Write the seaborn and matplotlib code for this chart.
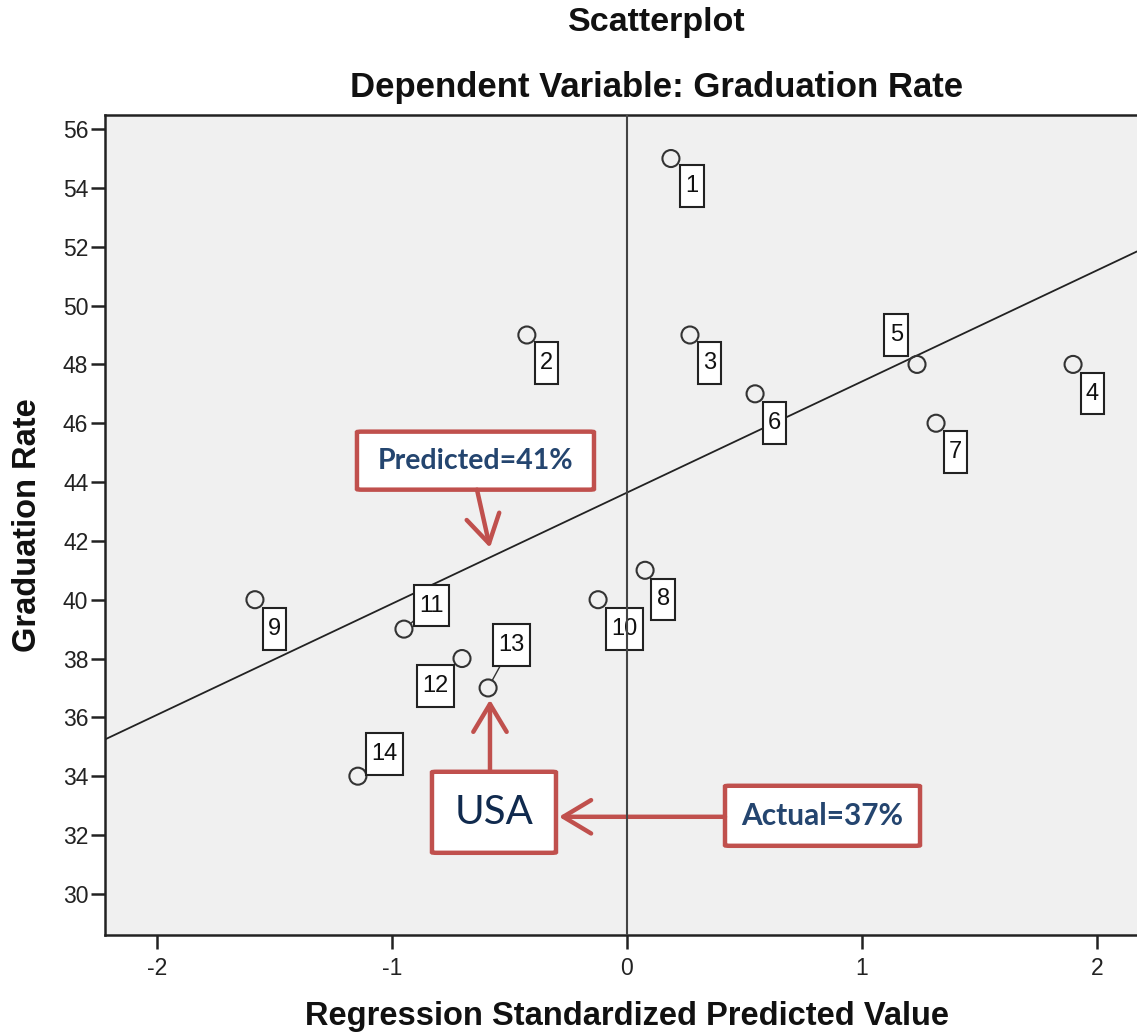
import matplotlib
matplotlib.use("Agg")
import matplotlib.pyplot as plt
from matplotlib.patches import FancyBboxPatch
from matplotlib.path import Path
import seaborn as sns
import pandas as pd

# ---- data ----
case_ids = [1, 2, 3, 4, 5, 6, 7, 8, 9, 10, 11, 12, 13, 14]
pred_z = [0.187, -0.426, 0.268, 1.898, 1.234, 0.545, 1.315, 0.077,
          -1.583, -0.123, -0.949, -0.702, -0.591, -1.145]
grad_rate = [55, 49, 49, 48, 48, 47, 46, 41, 40, 40, 39, 38, 37, 34]
y_ticks = [30, 32, 34, 36, 38, 40, 42, 44, 46, 48, 50, 52, 54, 56]
x_ticks = [-2, -1, 0, 1, 2]

# label offsets (points) of the case-number boxes, and whether a leader line shows
label_dx = [15, 14, 14, 14, -15, 14, 14, 13, 14, 19, 20, -19, 17, 19]
label_dy = [-20, -20, -20, -21, 21, -21, -21, -21, -21, -21, 17, -20, 31, 16]
leader = [False, False, False, False, False, False, False, False, False, False,
          True, False, True, True]

df = pd.DataFrame({"case": case_ids, "z": pred_z, "rate": grad_rate})

sns.set_style("white")
plt.rcParams["font.family"] = ["Liberation Sans", "DejaVu Sans"]
plt.rcParams["axes.unicode_minus"] = False

W, H = 1137, 1034
fig = plt.figure(figsize=(W / 100, H / 100), dpi=100)
ax = fig.add_axes([105 / W, 1 - 935 / H, (W - 105) / W, (935 - 115) / H])
ax.set_facecolor("#F0F0F0")

XMIN, XMAX = -2.221, 2.170
YMIN, YMAX = 28.6, 56.48
ax.set_xlim(XMIN, XMAX)
ax.set_ylim(YMIN, YMAX)

ax.axvline(0, color="#444444", lw=1.5, zorder=8)
sns.regplot(data=df, x="z", y="rate", scatter=False, ci=None, truncate=False,
            line_kws=dict(color="#222222", lw=1.3, zorder=2), ax=ax)
sns.scatterplot(data=df, x="z", y="rate", ax=ax, s=150, marker="o",
                facecolor="none", edgecolor="#333333", linewidth=1.5, zorder=4)


def tall_box(x0, y0, width, height, mutation_size):
    px = 0.22 * mutation_size
    py = 0.42 * mutation_size
    x0, y0 = x0 - px, y0 - py
    x1, y1 = x0 + width + 2 * px, y0 + height + 2 * py
    return Path([(x0, y0), (x1, y0), (x1, y1), (x0, y1), (x0, y0)], closed=True)


for cid, xv, yv, dx, dy, ld in zip(case_ids, pred_z, grad_rate, label_dx, label_dy, leader):
    kw = {}
    if ld:
        kw["arrowprops"] = dict(arrowstyle="-", color="#333333", lw=1.0,
                                shrinkA=0, shrinkB=6)
    ax.annotate(str(cid), xy=(xv, yv), xytext=(dx, dy), textcoords="offset points",
                ha="center", va="center", fontsize=17, color="#111111", zorder=5,
                bbox=dict(boxstyle=tall_box, fc="white", ec="#222222", lw=1.5), **kw)

ax.set_xlim(XMIN, XMAX)
ax.set_ylim(YMIN, YMAX)
ax.set_xticks(x_ticks)
ax.set_yticks(y_ticks)
ax.tick_params(axis="both", direction="out", length=10, width=1.8, colors="#222222",
               labelsize=16.5, labelcolor="#222222", left=True, bottom=True)
ax.tick_params(axis="y", pad=2)
ax.tick_params(axis="x", pad=6)
for s in ["left", "bottom", "top"]:
    ax.spines[s].set_color("#222222")
    ax.spines[s].set_linewidth(1.8)
ax.spines["right"].set_visible(False)

ax.set_xlabel("")
ax.set_ylabel("")
fig.text(627 / W, 1 - 1017 / H, "Regression Standardized Predicted Value",
         ha="center", va="center", fontsize=23.5, fontweight="bold", color="#111111")
fig.text(28 / W, 1 - 525 / H, "Graduation Rate", rotation=90,
         ha="center", va="center", fontsize=23.5, fontweight="bold", color="#111111")
fig.text(657 / W, 1 - 23 / H, "Scatterplot", ha="center", va="center",
         fontsize=24.5, fontweight="bold", color="#111111")
fig.text(657 / W, 1 - 88 / H, "Dependent Variable: Graduation Rate", ha="center",
         va="center", fontsize=25, fontweight="bold", color="#111111")

# ---- red callout boxes ----
RED = "#C0504D"
NAVY = "#24456F"


def px2data(px, py):
    return ((px - 627) / 235.0, 30 + (894 - py) / 29.4)


def callout(x0, y0, x1, y1, text, size, weight, color, family):
    (dx0, dy1) = px2data(x0, y0)
    (dx1, dy0) = px2data(x1, y1)
    box = FancyBboxPatch((dx0, dy0), dx1 - dx0, dy1 - dy0,
                         boxstyle="round,pad=0,rounding_size=0.02",
                         fc="white", ec=RED, lw=3.2, zorder=6,
                         mutation_aspect=29.4 / 235.0 * 8)
    ax.add_patch(box)
    ax.text((dx0 + dx1) / 2, (dy0 + dy1) / 2, text, ha="center", va="center",
            fontsize=size, fontweight=weight, color=color, zorder=7,
            family=family)


def arrow(tail, tip):
    ax.annotate("", xy=px2data(*tip), xytext=px2data(*tail),
                arrowprops=dict(arrowstyle="->,head_length=1.0,head_width=0.6",
                                color=RED, lw=3.2, mutation_scale=20,
                                shrinkA=0, shrinkB=0), zorder=6)


callout(357, 432, 594, 490, "Predicted=41%", 20.5, "bold", NAVY, ["Lato", "DejaVu Sans"])
callout(432, 772, 556, 853, "USA", 29, "normal", "#102A4E", ["Lato", "DejaVu Sans"])
callout(725, 786, 920, 846, "Actual=37%", 21.5, "bold", NAVY, ["Lato", "DejaVu Sans"])
arrow((477, 490), (490, 548))
arrow((490, 772), (490, 700))
arrow((725, 817), (559, 817))

fig.savefig("out.png", dpi=100, facecolor="white")
